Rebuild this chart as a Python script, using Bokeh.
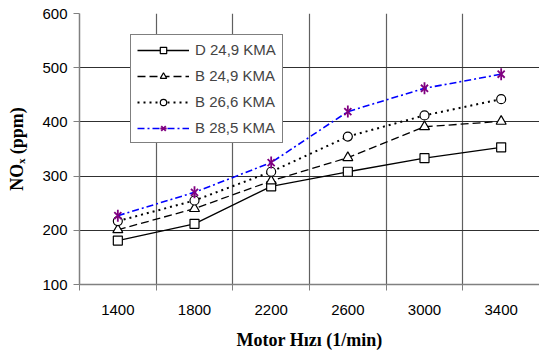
import math
from bokeh.plotting import figure
from bokeh.models import FixedTicker, Legend, LegendItem, ColumnDataSource
from bokeh.embed import file_html
from bokeh.resources import INLINE

speeds = ["1400", "1800", "2200", "2600", "3000", "3400"]
d249 = [181, 212, 281, 308, 333, 353]
b249 = [201, 240, 291, 334, 391, 401]
b266 = [217, 255, 308, 373, 412, 442]
b285 = [227, 270, 325, 419, 462, 488]
series_names = ["D 24,9 KMA", "B 24,9 KMA", "B 26,6 KMA", "B 28,5 KMA"]
y_ticks = [100, 200, 300, 400, 500, 600]

xs = list(range(len(speeds)))
p = figure(width=539, height=352, output_backend="svg", toolbar_location=None,
           x_range=(-0.5, len(speeds) - 0.5), y_range=(100, 600),
           min_border_left=79, min_border_right=0, min_border_top=13, min_border_bottom=10)
p.outline_line_color = None
p.background_fill_color = "white"

# x axis: labels at category centres, tick marks at category boundaries
p.xaxis.ticker = FixedTicker(ticks=xs, minor_ticks=[i - 0.5 for i in range(len(speeds) + 1)])
p.xaxis.major_label_overrides = {i: s for i, s in enumerate(speeds)}
p.xaxis.major_tick_out = 0
p.xaxis.major_tick_in = 0
p.xaxis.minor_tick_out = 6
p.xaxis.minor_tick_in = 0
p.xaxis.minor_tick_line_color = "#808080"
p.xaxis.major_label_standoff = 14
p.xaxis.axis_line_color = "#808080"
p.xaxis.axis_line_width = 1.5
p.xaxis.axis_label = "Motor Hızı (1/min)"
p.xaxis.axis_label_standoff = 12

p.yaxis.ticker = FixedTicker(ticks=y_ticks)
p.yaxis.major_tick_out = 6
p.yaxis.major_tick_in = 0
p.yaxis.minor_tick_line_color = None
p.yaxis.axis_line_color = "#808080"
p.yaxis.axis_line_width = 1.5
p.yaxis.major_tick_line_color = "#808080"
p.yaxis.major_label_standoff = 6
p.yaxis.axis_label = "NOₓ (ppm)"
p.yaxis.axis_label_standoff = 12

for ax in (p.xaxis, p.yaxis):
    ax.major_label_text_font = "Liberation Sans"
    ax.major_label_text_font_size = "15px"
    ax.major_label_text_color = "black"
    ax.axis_label_text_font = "Liberation Serif"
    ax.axis_label_text_font_size = "18px"
    ax.axis_label_text_font_style = "bold"
    ax.axis_label_text_color = "black"

p.xgrid.grid_line_color = None
p.xgrid.minor_grid_line_color = "#606060"
p.xgrid.minor_grid_line_width = 1.2
p.ygrid.grid_line_color = "#303030"
p.ygrid.grid_line_width = 1.2

src = ColumnDataSource(dict(x=xs, d249=d249, b249=b249, b266=b266, b285=b285))

items = []
r1 = p.line("x", "d249", source=src, line_color="black", line_width=1.3)
m1 = p.scatter("x", "d249", source=src, marker="square", size=9, fill_color="white", line_color="black", line_width=1.2)
items.append(LegendItem(label=series_names[0], renderers=[r1, m1]))

r2 = p.line("x", "b249", source=src, line_color="black", line_width=1.3, line_dash="8 4")
m2 = p.scatter("x", "b249", source=src, marker="triangle", size=10, fill_color="white", line_color="black", line_width=1.2)
items.append(LegendItem(label=series_names[1], renderers=[r2, m2]))

r3 = p.line("x", "b266", source=src, line_color="black", line_width=2, line_dash="2 4")
m3 = p.scatter("x", "b266", source=src, marker="circle", size=9, fill_color="white", line_color="black", line_width=1.2)
items.append(LegendItem(label=series_names[2], renderers=[r3, m3]))

r4 = p.line("x", "b285", source=src, line_color="#0000ff", line_width=1.6, line_dash="7 3 2 3")
m4a = p.scatter("x", "b285", source=src, marker="x", size=10, line_color="#800080", line_width=1.8)
m4b = p.scatter("x", "b285", source=src, marker="dash", angle=math.pi / 2, size=12, line_color="#800080", line_width=1.8)
items.append(LegendItem(label=series_names[3], renderers=[r4, m4a, m4b]))

legend = Legend(items=items, location=(51, 141))
legend.border_line_color = "black"
legend.border_line_width = 1
legend.background_fill_alpha = 1
legend.label_text_font = "Liberation Sans"
legend.label_text_font_size = "15px"
legend.glyph_width = 52
legend.glyph_height = 16
legend.label_height = 16
legend.spacing = 9
legend.padding = 6
legend.margin = 0
legend.label_standoff = 6
p.add_layout(legend, "center")

open("out.html", "w").write(file_html(p, INLINE))
